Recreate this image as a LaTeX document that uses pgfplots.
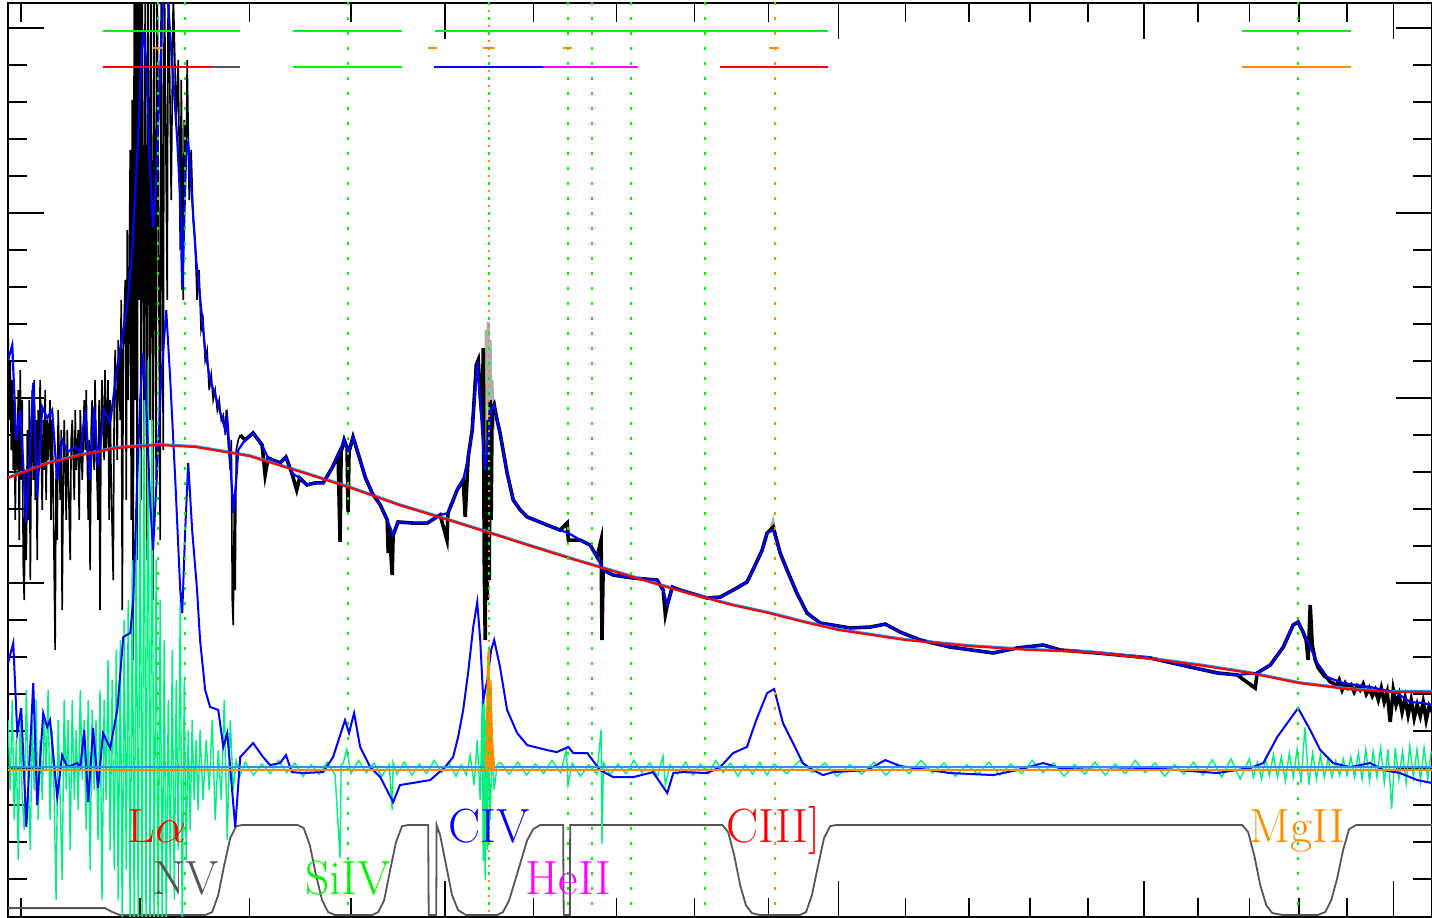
\documentclass[border=0pt]{standalone}
\usepackage{pgfplots}
\usepackage{pgfplotstable}
\pgfplotsset{compat=1.18}
\definecolor{myorange}{RGB}{255,140,0}
\definecolor{resid}{RGB}{0,240,130}
\definecolor{mylime}{RGB}{0,245,0}
\definecolor{ltblue}{RGB}{30,150,255}
\definecolor{maskgray}{RGB}{85,85,85}
\definecolor{specgray}{RGB}{175,175,175}
\definecolor{mymagenta}{RGB}{255,0,255}
\pgfplotstableread{
x y
1089.8 15.68
1120 16.43
1150 16.92
1180 17.30
1216 17.46
1250 17.35
1300 16.86
1350 16.00
1400 15.14
1450 14.22
1500 13.46
1550 12.70
1600 11.95
1650 11.24
1700 10.59
1750 9.95
1800 9.35
1850 8.81
1900 8.38
1950 7.89
2000 7.46
2100 6.92
2200 6.59
2300 6.38
2400 6.27
2500 5.95
2600 5.57
2700 5.14
2800 4.59
2900 4.27
3000 4.11
3086 4.11
}\conttab
\begin{document}
\begin{tikzpicture}
\begin{axis}[
  scale only axis, width=712pt, height=457pt,
  xmode=log, xmin=1089.8, xmax=3085.9, ymin=-8.05, ymax=41.35,
  xtick={1500,2000,2500,3000},
  minor xtick={1100,1200,1300,1400,1600,1700,1800,1900,2100,2200,2300,2400,2600,2700,2800,2900},
  ytick={0,10,20,30,40},
  minor ytick={-6,-4,-2,2,4,6,8,12,14,16,18,22,24,26,28,32,34,36,38},
  xticklabels={}, yticklabels={},
  tick align=inside, major tick length=18pt, minor tick length=9.5pt,
  axis line style={line width=1pt},
  every tick/.style={black, line width=0.8pt},
  clip=true,
]
% mask function
\addplot[maskgray, line width=0.9pt] coordinates {
(1089.8,-7.57) (1169.8,-7.57) (1175.9,-7.78) (1182.9,-7.95) (1258.6,-7.95) (1265.1,-7.78) (1270.7,-6.86) (1276.3,-5.24) (1281.9,-3.78) (1287.5,-3.14) (1293.1,-3.08)
(1346.7,-3.08) (1352.6,-3.24) (1358.7,-4.16) (1364.8,-5.78) (1370.9,-7.14) (1376.9,-7.78) (1384.0,-7.95)
(1422.1,-7.95) (1428.4,-7.78) (1434.6,-7.14) (1440.9,-5.51) (1447.1,-4.0) (1453.5,-3.14) (1459.9,-3.08)
(1481.5,-3.08) (1482.1,-7.95) (1490.2,-7.95) (1490.7,-3.08) (1494.5,-3.62) (1501.0,-5.24) (1507.5,-6.86) (1514.3,-7.68) (1523.3,-7.95)
(1558.0,-7.95) (1564.9,-7.78) (1571.9,-7.14) (1578.9,-6.05) (1585.8,-4.97) (1592.8,-3.89) (1599.8,-3.30) (1607.9,-3.08)
(1635.2,-3.08) (1635.8,-7.95) (1643.1,-7.95) (1643.6,-3.08)
(1836.8,-3.08) (1844.8,-3.46) (1852.9,-4.70) (1860.9,-6.32) (1869.0,-7.41) (1877.2,-7.84) (1888.4,-7.95)
(1944.2,-7.95) (1952.9,-7.78) (1961.6,-6.86) (1970.3,-5.24) (1979.0,-3.78) (1987.7,-3.14) (1996.4,-3.08)
(2686.0,-3.08) (2697.6,-3.46) (2709.6,-4.70) (2721.6,-6.32) (2733.6,-7.41) (2745.7,-7.84) (2767.8,-7.95)
(2837.5,-7.95) (2854.2,-7.78) (2866.7,-7.14) (2879.2,-5.95) (2891.6,-4.43) (2904.2,-3.30) (2919.3,-3.08) (3085.9,-3.08)};
% masked spectrum (gray)
\addplot[specgray, line width=1.5pt] coordinates {
(1544.6,16.11) (1545.7,23.68) (1546.9,19.89) (1548.0,24.11) (1549.1,18.27) (1550.2,23.14) (1551.3,17.73) (1552.4,20.97) (1553.5,18.27) (1554.7,19.89) (1555.8,18.81)};
\addplot[specgray, line width=1.2pt] coordinates {(1903,12.9) (1906.5,13.4) (1910,12.6)};
% observed spectrum: forest region
\addplot[black, line width=0.8pt] coordinates {
(1089.8,23.57) (1090.7,18.81) (1091.5,22.05) (1092.3,17.19) (1093.1,20.97) (1093.9,16.11) (1094.7,19.89) (1095.5,13.41) (1096.3,18.27) (1097.1,16.11)
(1097.9,20.43) (1098.7,12.32) (1099.5,21.51) (1100.3,15.57) (1101.1,19.89) (1101.9,10.97) (1102.7,9.08) (1103.6,16.11) (1104.4,11.24) (1105.2,18.27)
(1106.0,13.41) (1106.8,19.89) (1107.6,10.16) (1108.4,17.19) (1109.2,20.43) (1110.0,15.57) (1110.8,20.97) (1111.6,14.49) (1112.4,18.81) (1113.2,11.24)
(1114.0,19.35) (1114.8,16.11) (1115.6,20.97) (1117.3,13.95) (1118.1,18.81) (1118.9,16.11) (1119.7,20.43) (1120.5,14.49) (1121.3,18.81) (1122.1,16.65)
(1123.7,19.89) (1124.5,13.41) (1125.4,18.81) (1126.2,15.57) (1127.9,6.38) (1128.7,16.11) (1129.6,12.32) (1130.4,19.35) (1132.1,14.49) (1132.9,18.27)
(1133.7,8.54) (1134.6,15.57) (1135.4,18.81) (1137.1,13.41) (1137.9,18.27) (1138.7,16.11) (1140.4,11.24) (1141.2,17.73) (1142.1,18.81) (1143.8,14.49)
(1144.6,19.35) (1145.4,16.11) (1147.1,18.27) (1147.9,13.41) (1148.8,19.35) (1150.5,15.57) (1152.1,19.89) (1153.0,17.19) (1153.8,20.43) (1155.5,13.41)
(1156.3,17.73) (1157.1,10.70) (1158.0,18.27) (1158.8,19.89) (1160.5,16.11) (1161.3,20.97) (1162.1,17.73) (1163.8,13.41) (1164.7,19.89) (1165.5,8.54)
(1166.4,18.81) (1167.2,20.97) (1169.0,16.65) (1169.8,21.51) (1170.7,17.19) (1172.4,20.97) (1173.3,13.41) (1174.2,19.89) (1175.0,15.57) (1176.8,10.16)
(1177.7,20.43) (1178.5,22.59) (1180.3,16.65) (1181.1,23.14) (1182.9,18.81) (1183.7,25.30) (1184.6,8.54) (1185.5,22.59) (1187.2,26.38) (1188.1,14.49)
(1188.9,29.08) (1189.8,19.89) (1191.5,33.41) (1192.4,13.41) (1193.3,36.11) (1194.1,5.84) (1195.0,44) (1195.9,19.89) (1196.7,44) (1197.6,11.24)
(1198.5,44) (1199.3,25.30) (1200.2,44) (1201.1,14.49) (1201.9,44) (1203.7,17.19) (1204.6,44) (1206.3,11.24) (1207.2,44) (1208.9,18.81)
(1209.8,44) (1211.6,9.08) (1212.5,44) (1214.3,15.57) (1215.2,44) (1217.9,12.32) (1218.8,44) (1220.6,17.19) (1221.5,44) (1224.2,25.30)
(1225.1,44) (1227.8,30.70) (1229.6,42.0) (1232.3,35.03) (1234.1,38.27) (1235.9,28.0) (1236.8,37.19) (1238.6,25.30) (1239.5,35.03) (1241.3,32.86)
(1242.2,38.27) (1244.0,30.70) (1245.8,33.41) (1247.6,29.62) (1249.4,28.54) (1251.2,25.30) (1253.0,26.92) (1254.8,23.68) (1256.7,24.22) (1258.6,22.05)
(1260.4,22.59) (1262.3,20.43) (1264.2,21.24) (1266.0,19.89) (1267.9,20.43) (1269.8,19.35) (1271.6,19.89) (1273.5,18.81) (1275.4,19.08) (1277.3,18.0)
(1278.2,19.35) (1280.1,17.46) (1281.9,16.11) (1282.9,17.73) (1283.8,9.08) (1284.7,7.73) (1285.7,14.49) (1286.6,9.62) (1287.5,17.19) (1289.4,17.73) (1291.3,18.0)};
% observed spectrum: rest
\addplot[black, line width=1.8pt] coordinates {
(1291.3,18.0) (1295.9,17.73) (1303.5,18.11) (1312.1,17.46) (1315.0,15.84) (1317.9,16.76) (1329.4,16.49) (1335.2,16.81) (1340.9,15.95) (1345.7,15.03)
(1348.6,15.68) (1355.7,15.30) (1363.8,15.41) (1371.9,15.41) (1381.0,16.22) (1387.1,16.92) (1389.1,12.22) (1390.1,17.08) (1393.2,17.73) (1396.2,17.30)
(1397.2,13.84) (1398.2,17.10) (1402.3,17.89) (1409.6,16.65) (1414.8,15.73) (1422.1,14.86) (1430.5,14.22) (1437.8,13.41) (1438.8,11.62) (1440.0,13.0)
(1443.0,10.43) (1444.0,12.59) (1449.2,13.30) (1465.3,13.24) (1480.5,13.24) (1494.5,13.68) (1502.0,12.32) (1503.1,13.78) (1513.2,15.03) (1519.9,15.57)
(1522.1,13.57) (1525.5,16.81) (1530.0,18.27) (1532.2,19.89) (1534.5,21.78) (1536.7,22.05) (1539.0,20.05) (1541.2,18.81) (1542.4,22.70) (1543.5,11.24)
(1544.6,6.92) (1545.7,16.11) (1546.9,9.08) (1548.0,18.81) (1549.1,10.16) (1550.2,19.89) (1551.3,13.41) (1552.4,19.35) (1554.7,19.62) (1558.0,18.81)
(1561.4,18.11) (1569.5,15.95) (1576.5,14.49) (1584.6,13.95) (1592.8,13.57) (1616.0,13.14) (1631.6,12.86) (1640.0,13.24) (1641.3,12.32) (1655.8,12.32)
(1667.8,12.05) (1676.2,11.41) (1681.1,12.32) (1682.3,6.92) (1683.6,10.70) (1696.1,10.43) (1721.1,10.27) (1751.4,10.16) (1759.2,9.62) (1762.0,8.30)
(1764.4,8.81) (1770.9,9.78) (1781.3,9.62) (1794.2,9.46) (1816.6,9.19) (1834.1,9.24) (1851.6,9.62) (1870.4,10.05) (1878.6,10.70) (1891.2,11.78)
(1898.1,12.70) (1906.5,13.03) (1916.3,11.62) (1926.1,10.70) (1940.0,9.46) (1954.3,8.38) (1973.2,7.84) (2016.6,7.57) (2046.6,7.62) (2069.2,7.78)
(2091.7,7.35) (2122.8,6.92) (2169.5,6.54) (2239.0,6.22) (2278.8,6.49) (2322.3,6.65) (2351.4,6.38) (2415.7,6.22) (2511.0,5.95) (2585.8,5.46)
(2637.5,5.14) (2676.3,5.03) (2711.6,4.32) (2715.6,5.14) (2741.7,5.57) (2767.8,6.54) (2787.9,7.73) (2798.0,7.89) (2808.3,7.35) (2814.5,6.92)
(2818.7,5.84) (2822.9,8.81) (2827.0,6.65) (2833.3,5.84) (2839.5,5.41) (2845.8,5.19) (2852.1,4.97) (2858.2,4.86) (2864.6,4.65) (2870.8,4.59)
(2877.1,4.43) (2883.4,4.76) (2889.6,4.22) (2895.9,4.59) (2902.1,4.32) (2908.5,4.49) (2915.0,4.11) (2921.4,4.43) (2927.9,4.22) (2934.4,4.54)
(2941.0,4.0) (2947.4,4.32) (2953.9,3.89) (2960.4,4.22) (2966.9,3.68) (2973.4,4.32) (2979.9,3.57) (2986.4,4.11) (2992.9,2.49) (2999.4,4.22)
(3005.8,3.41) (3012.3,3.95) (3019.0,3.03) (3025.7,3.78) (3032.4,2.86) (3039.1,3.68) (3045.8,2.70) (3052.5,3.41) (3059.3,2.81) (3066.0,3.57)
(3072.7,2.59) (3079.4,3.35) (3085.9,3.03)};
% residuals
\addplot[resid, line width=0.7pt] coordinates {
(1089.8,2.59) (1091.5,-1.19) (1093.1,3.68) (1094.7,-2.81) (1096.3,1.51) (1097.9,-4.97) (1099.5,3.14) (1101.1,-1.73) (1102.7,-3.35) (1104.4,4.22)
(1106.0,-0.65) (1107.6,-4.43) (1109.2,2.59) (1110.8,-1.19) (1112.4,3.68) (1114.0,-2.81) (1115.6,1.51) (1117.3,-1.73) (1118.9,2.59) (1120.5,-0.11)
(1122.1,4.22) (1123.7,-2.81) (1125.4,2.05) (1127.0,-1.19) (1128.7,-7.14) (1130.4,2.59) (1132.1,-1.73) (1133.7,-6.05) (1135.4,3.68) (1137.1,-1.19)
(1138.7,2.59) (1140.4,-4.43) (1142.1,3.68) (1143.8,-1.73) (1145.4,2.05) (1147.1,-2.27) (1148.8,4.22) (1150.5,-0.65) (1152.1,2.59) (1153.8,-3.35)
(1155.5,3.68) (1157.1,-5.51) (1158.8,3.14) (1160.5,-1.19) (1162.1,2.59) (1163.8,-3.89) (1165.5,4.22) (1167.2,-7.14) (1169.0,3.68) (1170.7,-1.73)
(1172.4,5.84) (1174.2,-4.43) (1175.9,4.76) (1177.7,-5.51) (1179.4,6.38) (1181.1,-7.14) (1182.9,6.92) (1184.6,-9) (1186.3,8.0) (1188.1,-5.51)
(1189.8,9.08) (1191.5,-9) (1193.3,11.24) (1195.0,-9) (1196.7,13.41) (1198.5,-9) (1200.2,17.19) (1201.9,-9) (1203.7,19.89) (1205.4,-9)
(1207.2,22.05) (1208.9,-9) (1210.7,18.81) (1212.5,-9) (1214.3,11.24) (1216.1,-9) (1217.9,9.08) (1219.7,-9) (1221.5,6.92) (1223.3,-9)
(1225.1,3.68) (1226.9,-6.05) (1228.7,6.38) (1230.5,-7.14) (1232.3,4.76) (1234.1,-4.43) (1235.9,9.08) (1237.7,-9) (1239.5,4.76) (1241.3,-4.97)
(1243.1,2.05) (1244.9,-3.35) (1246.7,2.59) (1248.5,-1.73) (1250.3,1.51) (1252.1,-2.27) (1253.9,2.05) (1256.7,-1.73) (1259.5,1.51) (1262.3,-1.19)
(1265.1,2.59) (1267.9,-2.81) (1270.7,0.97) (1273.5,-1.73) (1276.3,3.68) (1279.1,-3.89) (1281.9,2.59) (1284.7,-1.19) (1287.5,0.43) (1291.3,-0.38)
(1296,0.32) (1304,-0.38) (1312,0.22) (1320,-0.30) (1328,0.41) (1336,-0.25) (1344,0.27) (1352,-0.45) (1360,0.18) (1368,-0.33) (1376,0.32) (1384,-0.38)
(1389.1,-4.86) (1390.2,0.2) (1392,0.22) (1396,1.0) (1400,-0.30) (1408,0.41) (1416,-0.25) (1424,0.27) (1432,-0.45) (1440,0.18) (1443.0,-2.27) (1444,0.3)
(1448,-0.33) (1456,0.32) (1464,-0.38) (1472,0.22) (1480,-0.30) (1488,0.41) (1496,-0.25) (1504,0.27) (1512,-0.45) (1518,0.18)
(1523.3,-0.38) (1527.7,0.70) (1532.2,-0.92) (1535.6,1.51) (1539.0,-1.73) (1541.2,3.68) (1542.4,-5.03) (1543.5,4.22) (1544.6,-6.05) (1545.7,2.59)
(1546.9,-4.43) (1548.0,1.51) (1550.2,-2.81) (1552.4,0.97) (1554.7,-1.19) (1558.0,0.16)
(1562,0.3) (1572,-0.33) (1582,0.32) (1592,-0.38) (1602,0.22) (1612,-0.30) (1622,0.41) (1632,-0.25) (1639,1.0) (1641,-0.9) (1646,0.27) (1656,-0.45)
(1666,0.18) (1676,-0.33) (1681.1,2.05) (1682.3,-4.1) (1684,0.3) (1692,-0.38) (1702,0.22) (1712,-0.30) (1722,0.41) (1732,-0.25) (1742,0.27) (1752,-0.45)
(1759,0.65) (1762,-0.9) (1768,0.18) (1778,-0.33) (1788,0.32) (1798,-0.38) (1808,0.22) (1818,-0.30) (1828,0.41) (1838,-0.25) (1848,0.27) (1858,-0.45)
(1868,0.18) (1878,-0.33) (1888,0.32) (1898,-0.38) (1908,0.22) (1926,-0.30) (1944,0.41) (1962,-0.25) (1980,0.27) (1998,-0.45) (2016,0.18) (2034,-0.33)
(2052,0.32) (2070,-0.38) (2088,0.22) (2106,-0.30) (2124,0.41) (2142,-0.25) (2160,0.27) (2178,-0.45) (2196,0.18) (2214,-0.33) (2232,0.32) (2250,-0.38)
(2268,0.22) (2286,-0.30) (2304,0.41) (2322,-0.25) (2340,0.27) (2358,-0.45) (2376,0.18) (2394,-0.33) (2412,0.32) (2430,-0.38) (2448,0.22) (2466,-0.30)
(2484,0.41) (2502,-0.25) (2520,0.27) (2538,-0.45) (2556,0.18) (2574,-0.33) (2592,0.32) (2610,-0.38) (2628,0.45) (2646,-0.5) (2664,0.5) (2682,-0.6)
(2700,0.5) (2708,-0.5) (2716,0.3) (2724,-0.6) (2732,0.5) (2740,-0.4) (2748,0.7) (2756,-0.5) (2764,0.6) (2772,-0.7) (2780,0.8) (2788,-0.5)
(2796,1.0) (2804,-0.8) (2812,2.2) (2820,-0.9) (2828,0.8) (2836,-0.6) (2844,0.7) (2852,-0.5) (2860,0.5) (2868,-0.5) (2876,0.4) (2884,-0.4)
(2892,0.5) (2900,-0.4) (2908,0.6) (2916,-0.5) (2924,0.8) (2932,-0.6) (2940,1.0) (2948,-0.7) (2956,0.9) (2964,-0.5) (2972,1.1) (2980,-0.8)
(2988,1.0) (2996,-2.2) (3004,1.1) (3012,-0.6) (3020,0.9) (3028,-0.8) (3036,1.2) (3044,-0.5) (3052,1.0) (3060,-0.7) (3068,1.1) (3076,-0.6) (3084,0.9)};
% emission-line model
\addplot[blue, line width=1pt] coordinates {
(1089.8,5.68) (1093.9,6.76) (1097.1,1.89) (1100.3,3.24) (1104.4,-3.19) (1110.0,4.59) (1113.2,-2.0) (1118.1,2.97) (1121.3,2.22) (1123.7,2.59)
(1129.6,-1.57) (1133.7,0.70) (1137.9,0.05) (1146.3,0.27) (1148.8,0.05) (1152.1,2.05) (1155.5,-1.84) (1159.6,2.16) (1163.8,-1.08) (1168.1,1.89)
(1174.2,1.08) (1180.3,3.14) (1185.5,7.08) (1191.6,7.30) (1194.2,9.08) (1197.6,15.57) (1200.2,19.89) (1202.8,22.43) (1205.4,19.89) (1208.9,14.49)
(1211.6,11.78) (1215.2,16.11) (1218.8,20.97) (1223.3,24.76) (1226.9,20.97) (1231.4,15.57) (1235.9,9.62) (1237.7,8.38) (1240.4,12.86) (1243.1,16.49)
(1246.7,12.86) (1251.2,9.62) (1253.9,6.92) (1258.6,4.22) (1263.2,3.30) (1270.7,3.14) (1275.4,1.14) (1279.1,1.89) (1286.6,-3.19) (1291.3,0.59)
(1303.5,1.35) (1313.1,0.59) (1319.8,0.16) (1329.4,0.27) (1335.2,0.70) (1340.9,-0.22) (1351.6,-0.27) (1371.9,-0.22) (1382.0,0.59) (1394.1,2.59)
(1398.2,1.89) (1403.4,2.97) (1409.6,1.14) (1420.0,0.05) (1430.5,-0.49) (1444.0,-1.84) (1451.3,-0.92) (1483.7,-0.65) (1499.9,0.05) (1508.7,0.59)
(1514.3,1.68) (1519.9,3.14) (1525.5,5.19) (1531.1,7.62) (1535.6,8.97) (1539.0,6.92) (1542.4,3.68) (1546.9,4.76) (1551.3,6.38) (1554.7,6.92)
(1561.4,5.46) (1569.5,3.14) (1581.1,1.89) (1592.8,1.24) (1616.0,0.97) (1627.5,0.86) (1641.3,1.14) (1647.3,0.81) (1664.2,0.81) (1679.8,-0.11)
(1696.1,-0.49) (1721.1,-0.49) (1746.1,-0.22) (1764.4,-1.35) (1772.2,-0.27) (1785.2,-0.22) (1816.6,-0.27) (1834.1,0.05) (1851.6,0.81) (1870.4,1.14)
(1883.2,2.59) (1898.1,4.05) (1907.9,4.27) (1920.5,2.43) (1934.4,1.35) (1948.5,0.27) (1963.0,-0.11) (1977.5,-0.38) (1992.0,-0.22) (2042.1,-0.11)
(2069.2,0.43) (2091.7,0.11) (2169.5,-0.27) (2239.0,-0.38) (2278.8,-0.11) (2322.3,0.27) (2351.4,0) (2420.9,0.05) (2511.0,0) (2637.5,-0.27)
(2701.5,0) (2727.6,0.27) (2755.8,1.68) (2775.9,2.43) (2798.0,3.24) (2822.9,2.05) (2843.7,0.97) (2870.8,0.27) (2906.3,0.05) (2949.6,0.27)
(2977.7,-0.11) (3014.5,-0.27) (3052.5,-0.65) (3085.9,-0.81)};
% zero lines
\addplot[ltblue, line width=0.8pt] coordinates {(1089,0.05) (3090,0.05)};
% continuum
\addplot[ltblue, line width=0.9pt] table[x=x, y expr=\thisrow{y}+0.06] {\conttab};
% total model
\addplot[blue, line width=1.1pt] coordinates {
(1089.8,22.05) (1093.1,22.86) (1096.3,17.73) (1099.5,19.35) (1104.4,13.24) (1110.0,20.81) (1113.2,14.65) (1117.3,19.51) (1121.3,18.92) (1125.4,19.35)
(1129.6,15.57) (1133.7,17.73) (1137.9,17.08) (1144.6,17.35) (1148.8,17.08) (1153.0,19.35) (1157.1,15.57) (1160.5,19.51) (1163.8,16.27) (1169.0,19.35)
(1174.2,18.65) (1180.3,21.68) (1185.5,23.68) (1188.9,25.03) (1193.3,28.0) (1195.9,31.24) (1198.5,34.11) (1201.1,38.27) (1202.8,39.89) (1205.4,38.27)
(1208.9,32.32) (1211.6,29.24) (1214.3,31.78) (1217.0,36.11) (1220.6,42.05) (1223.3,43.68) (1226.0,40.43) (1229.6,37.19) (1233.2,33.95) (1235.9,30.70)
(1237.7,25.84) (1239.5,29.62) (1241.3,33.41) (1243.1,33.78) (1244.9,32.32) (1246.7,30.70) (1250.3,27.46) (1253.9,25.46) (1258.6,22.59) (1263.2,20.97)
(1267.9,20.16) (1272.6,19.19) (1277.3,18.27) (1279.1,18.92) (1281.9,16.65) (1284.7,13.78) (1287.5,15.57) (1289.4,17.19) (1295.9,17.73) (1303.5,18.11)
(1312.1,17.46) (1317.9,16.76) (1329.4,16.49) (1335.2,16.81) (1340.9,15.95) (1348.6,15.68) (1355.7,15.30) (1363.8,15.41) (1371.9,15.41) (1381.0,16.22)
(1387.1,16.92) (1393.2,17.73) (1397.2,17.03) (1402.3,17.89) (1409.6,16.65) (1414.8,15.73) (1422.1,14.86) (1430.5,14.22) (1437.8,13.41) (1444.0,12.59)
(1449.2,13.30) (1465.3,13.24) (1480.5,13.24) (1494.5,13.68) (1503.1,13.78) (1513.2,15.03) (1519.9,15.57) (1525.5,16.81) (1530.0,18.27) (1533.4,20.43)
(1535.6,21.95) (1539.0,19.89) (1542.4,17.19) (1544.6,16.11) (1548.0,17.73) (1551.3,19.35) (1554.7,19.62) (1558.0,18.81) (1561.4,18.11) (1569.5,15.95)
(1576.5,14.49) (1584.6,13.95) (1592.8,13.57) (1616.0,13.14) (1631.6,12.86) (1641.3,12.70) (1655.8,12.32) (1667.8,12.05) (1676.2,11.41) (1683.6,10.70)
(1696.1,10.43) (1721.1,10.27) (1751.4,10.16) (1759.2,9.62) (1764.4,8.81) (1770.9,9.78) (1781.3,9.62) (1794.2,9.46) (1816.6,9.19) (1834.1,9.24)
(1851.6,9.62) (1870.4,10.05) (1878.6,10.70) (1891.2,11.78) (1898.1,12.70) (1906.5,12.86) (1916.3,11.62) (1926.1,10.70) (1940.0,9.46) (1954.3,8.38)
(1973.2,7.84) (2016.6,7.57) (2046.6,7.62) (2069.2,7.78) (2091.7,7.35) (2122.8,6.92) (2169.5,6.54) (2239.0,6.22) (2278.8,6.49) (2322.3,6.65)
(2351.4,6.38) (2415.7,6.22) (2511.0,5.95) (2585.8,5.46) (2637.5,5.14) (2676.3,5.03) (2715.6,5.14) (2741.7,5.57) (2767.8,6.54) (2787.9,7.73)
(2798.0,7.89) (2816.6,6.92) (2837.5,5.68) (2858.2,4.92) (2891.6,4.59) (2949.6,4.38) (2977.7,4.22) (3008.0,4.05) (3036.9,3.57) (3066.0,3.51) (3085.9,3.41)};
\addplot[red, line width=1.1pt] table[x=x, y=y] {\conttab};
\addplot[myorange, line width=1pt] coordinates {(1089,-0.1) (3090,-0.1)};
\addplot[myorange, fill=myorange, line width=0.4pt] coordinates {
(1544.6,-0.11) (1545.7,1.51) (1546.9,5.84) (1548.0,6.38) (1549.1,6.54) (1550.2,3.68) (1551.3,4.76) (1552.4,2.59) (1553.5,1.24) (1554.7,0.43) (1555.8,-0.11)} -- cycle;
% line markers (dotted)
\foreach \lam in {1215.67,1240.14,1397.0,1549.06,1640.4,1670.0,1718.55,1814.0,2798.75} {
  \edef\tmp{\noexpand\addplot[mylime, line width=1pt, dash pattern=on 1.2pt off 6.3pt] coordinates {(\lam,-9) (\lam,45)};}
  \tmp
}
\addplot[myorange, line width=1pt, dash pattern=on 1.2pt off 6.3pt, dash phase=3.7pt] coordinates {(1549.06,-9) (1549.06,45)};
\addplot[myorange, line width=1pt, dash pattern=on 1.2pt off 6.3pt] coordinates {(1908.73,-9) (1908.73,45)};
% fitting windows (top)
\addplot[mylime, line width=1pt] coordinates {(1168.1,39.84) (1291.3,39.84)};
\addplot[mylime, line width=1pt] coordinates {(1341.9,39.84) (1453.5,39.84)};
\addplot[mylime, line width=1pt] coordinates {(1489.1,39.84) (1984.7,39.84)};
\addplot[mylime, line width=1pt] coordinates {(2686.0,39.84) (2908.5,39.84)};
\addplot[myorange, line width=1pt] coordinates {(1211.6,38.92) (1220.5,38.92)};
\addplot[myorange, line width=1pt] coordinates {(1481.4,38.92) (1491.2,38.92)};
\addplot[myorange, line width=1pt] coordinates {(1541.9,38.92) (1555.5,38.92)};
\addplot[myorange, line width=1pt] coordinates {(1635.2,38.92) (1646.0,38.92)};
\addplot[myorange, line width=1pt] coordinates {(1900.7,38.92) (1914.7,38.92)};
\addplot[red, line width=1pt] coordinates {(1168.1,37.89) (1265.1,37.89)};
\addplot[maskgray, line width=1pt] coordinates {(1265.1,37.89) (1291.3,37.89)};
\addplot[mylime, line width=1pt] coordinates {(1341.9,37.89) (1453.5,37.89)};
\addplot[blue, line width=1pt] coordinates {(1488.0,37.89) (1611.4,37.89)};
\addplot[mymagenta, line width=1pt] coordinates {(1611.4,37.89) (1727.3,37.89)};
\addplot[red, line width=1pt] coordinates {(1834.1,37.89) (1984.7,37.89)};
\addplot[myorange, line width=1pt] coordinates {(2686.0,37.89) (2908.5,37.89)};
% labels
\node[anchor=base, text=red, font=\fontsize{24}{28}\selectfont] at (axis cs:1215,-4.0) {L$\alpha$};
\node[anchor=base, text=maskgray, font=\fontsize{24}{28}\selectfont] at (axis cs:1241,-6.81) {NV};
\node[anchor=base, text=mylime, font=\fontsize{24}{28}\selectfont] at (axis cs:1397,-6.81) {SiIV};
\node[anchor=base, text=blue, font=\fontsize{24}{28}\selectfont] at (axis cs:1549,-4.0) {CIV};
\node[anchor=base, text=mymagenta, font=\fontsize{24}{28}\selectfont] at (axis cs:1641,-6.81) {HeII};
\node[anchor=base, text=red, font=\fontsize{24}{28}\selectfont] at (axis cs:1907,-4.0) {CIII]};
\node[anchor=base, text=myorange, font=\fontsize{24}{28}\selectfont] at (axis cs:2796,-4.0) {MgII};
\end{axis}
\pgfresetboundingbox
\path ([xshift=-4pt,yshift=-0.5pt]current axis.south west) rectangle ([yshift=1.5pt]current axis.north east);
\end{tikzpicture}
\end{document}
